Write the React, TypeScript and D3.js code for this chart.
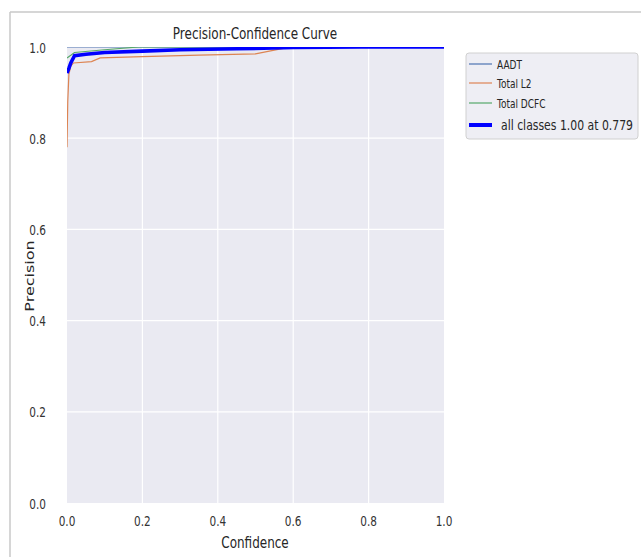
import React from "react";
import * as d3 from "d3";

const xTicks = [0, 0.2, 0.4, 0.6, 0.8, 1.0];
const yTicks = [0, 0.2, 0.4, 0.6, 0.8, 1.0];

const seriesNames = ["AADT", "Total L2", "Total DCFC"];
const seriesColors = ["#4c72b0", "#dd8452", "#55a868"];

const aadtConf = [0, 1];
const aadtPrec = [1.0, 1.0];

const l2Conf = [0, 0.002, 0.005, 0.01, 0.017, 0.065, 0.088, 0.2, 0.35, 0.5, 0.53, 0.58, 0.6, 1.0];
const l2Prec = [0.78, 0.88, 0.94, 0.958, 0.965, 0.968, 0.976, 0.979, 0.982, 0.985, 0.99, 0.998, 1.0, 1.0];

const dcfcConf = [0, 0.02, 0.1, 0.19, 1.0];
const dcfcPrec = [0.976, 0.988, 0.994, 1.0, 1.0];

const allConf = [0, 0.005, 0.01, 0.02, 0.05, 0.1, 0.2, 0.3, 0.45, 0.6, 0.78, 1.0];
const allPrec = [0.943, 0.953, 0.965, 0.981, 0.984, 0.988, 0.991, 0.994, 0.996, 0.999, 1.0, 1.0];
const allLabel = "all classes 1.00 at 0.779";

const FONT = "DejaVu Sans, sans-serif";
const SX = 0.75;

function T({ x, y, size, anchor = "middle", rotate = 0, fill = "#262626", children }: any) {
  return (
    <text
      transform={`translate(${x},${y}) scale(${SX},1)${rotate ? ` rotate(${rotate})` : ""}`}
      fontFamily={FONT}
      fontSize={size}
      textAnchor={anchor}
      dominantBaseline="central"
      fill={fill}
    >
      {children}
    </text>
  );
}

export default function App() {
  const W = 641, H = 557;
  const x = d3.scaleLinear().domain([0, 1]).range([67, 444]);
  const y = d3.scaleLinear().domain([0, 1]).range([503, 47]);
  const line = d3.line<[number, number]>().x((d) => x(d[0])).y((d) => y(d[1]));
  const zip = (a: number[], b: number[]) => a.map((v, i) => [v, b[i]] as [number, number]);
  const series = [zip(aadtConf, aadtPrec), zip(l2Conf, l2Prec), zip(dcfcConf, dcfcPrec)];

  const legendRows = [64, 83, 103];

  return (
    <svg width={W} height={H} style={{ position: "absolute", left: 0, top: 0, background: "#fff" }}>
      <defs>
        <clipPath id="plotclip">
          <rect x={67} y={47} width={377} height={456} />
        </clipPath>
      </defs>
      <line x1={10} y1={12} x2={641} y2={12} stroke="#c8c8c8" strokeWidth={1.5} />
      <line x1={10} y1={12} x2={10} y2={557} stroke="#c8c8c8" strokeWidth={1.5} />

      <rect x={67} y={47} width={377} height={456} fill="#eaeaf2" />
      {xTicks.slice(1, -1).map((t) => (
        <line key={"gx" + t} x1={x(t)} x2={x(t)} y1={47} y2={503} stroke="#fff" strokeWidth={1.2} />
      ))}
      {yTicks.slice(1, -1).map((t) => (
        <line key={"gy" + t} x1={67} x2={444} y1={y(t)} y2={y(t)} stroke="#fff" strokeWidth={1.2} />
      ))}

      <g clipPath="url(#plotclip)">
        {series.map((s, i) => (
          <path key={i} d={line(s) || ""} fill="none" stroke={seriesColors[i]} strokeWidth={1.2} />
        ))}
        <path d={line(zip(allConf, allPrec)) || ""} fill="none" stroke="#0000ff" strokeWidth={3.6} />
      </g>

      {xTicks.map((t) => (
        <T key={"xt" + t} x={x(t)} y={521} size={14} fill="#333">{t.toFixed(1)}</T>
      ))}
      {yTicks.map((t) => (
        <T key={"yt" + t} x={46} y={y(t) + 1} size={14} anchor="end" fill="#333">{t.toFixed(1)}</T>
      ))}

      <T x={255} y={33} size={16}>Precision-Confidence Curve</T>
      <T x={255} y={542} size={16}>Confidence</T>
      <T x={30} y={276} size={16} rotate={-90}>Precision</T>

      <rect x={466} y={53} width={172} height={86} rx={3} fill="#eeeef4" stroke="#d0d0d0" strokeWidth={1} />
      {seriesNames.map((n, i) => (
        <g key={n}>
          <line x1={469} x2={492} y1={legendRows[i]} y2={legendRows[i]} stroke={seriesColors[i]} strokeWidth={1.2} />
          <T x={497} y={legendRows[i]} size={12} anchor="start">{n}</T>
        </g>
      ))}
      <line x1={469} x2={492} y1={125} y2={125} stroke="#0000ff" strokeWidth={4} />
      <T x={501} y={125} size={14.5} anchor="start">{allLabel}</T>
    </svg>
  );
}
